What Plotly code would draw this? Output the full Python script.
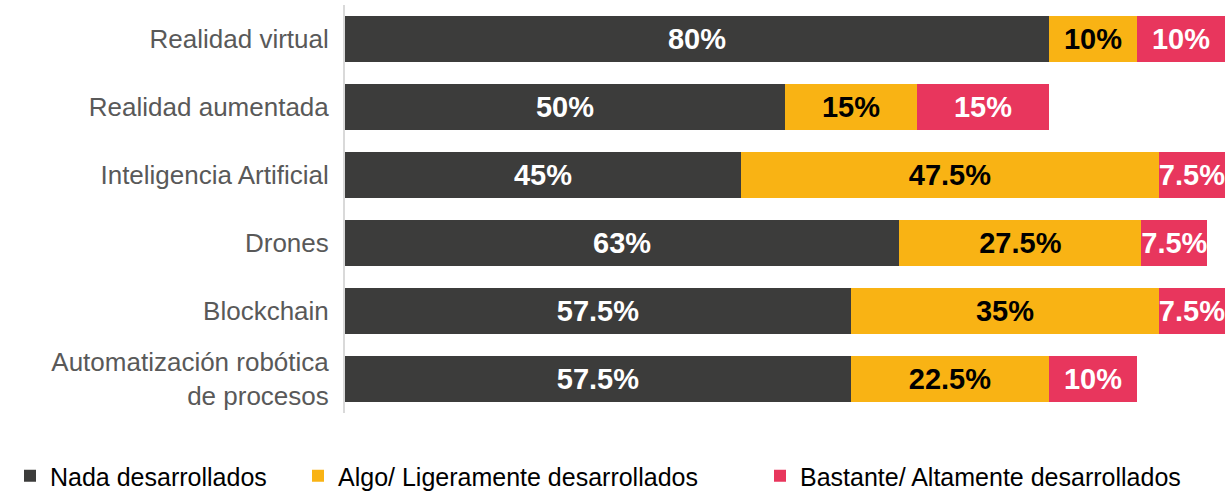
import plotly.graph_objects as go

categories = ["Realidad virtual", "Realidad aumentada", "Inteligencia Artificial",
              "Drones", "Blockchain", "Automatización robótica<br>de procesos"]
nada = [80, 50, 45, 63, 57.5, 57.5]
algo = [10, 15, 47.5, 27.5, 35, 22.5]
bastante = [10, 15, 7.5, 7.5, 7.5, 10]
series_names = ["Nada desarrollados", "Algo/ Ligeramente desarrollados", "Bastante/ Altamente desarrollados"]
colors = ["#3C3C3B", "#F9B314", "#E8365D"]
text_colors = ["white", "black", "white"]
legend_ids = ["legend", "legend2", "legend3"]
legend_x_px = [10, 298, 760]

def fmt(v):
    return f"{v:g}%"

W, H = 1225, 492
fig = go.Figure()
for name, vals, col, tcol, lid in zip(series_names, [nada, algo, bastante], colors, text_colors, legend_ids):
    fig.add_trace(go.Bar(
        y=categories, x=vals, name=name, orientation="h", legend=lid,
        marker=dict(color=col, line=dict(width=0)),
        text=[fmt(v) for v in vals], textposition="inside", insidetextanchor="middle",
        constraintext="none", cliponaxis=False,
        textfont=dict(family="Liberation Sans, Arial, sans-serif", size=29, color=tcol, weight="bold"),
        hoverinfo="skip",
    ))

plot_top, plot_bottom = 5, 413
legend_center = 476
legend_common = dict(orientation="h", xref="container", yref="container",
                     y=(H - legend_center) / H, xanchor="left", yanchor="middle",
                     font=dict(size=25, color="black"), itemwidth=30,
                     bgcolor="rgba(0,0,0,0)")
legends = {lid: dict(legend_common, x=px / W) for lid, px in zip(legend_ids, legend_x_px)}

fig.update_layout(
    barmode="stack", bargap=0.32,
    width=W, height=H,
    margin=dict(l=345, r=0, t=plot_top, b=H - plot_bottom, autoexpand=False),
    plot_bgcolor="white", paper_bgcolor="white",
    font=dict(family="Liberation Sans, Arial, sans-serif"),
    xaxis=dict(range=[0, 100], visible=False, fixedrange=True),
    yaxis=dict(categoryorder="array", categoryarray=categories, autorange="reversed",
               showline=True, linecolor="#D9D9D9", linewidth=2, ticks="",
               showgrid=False, ticklabelstandoff=9, fixedrange=True,
               tickfont=dict(size=26, color="#595959")),
    showlegend=True,
    **legends,
)

fig.write_html("out.html", config={"displayModeBar": False},
               post_script="document.body.style.margin='0';")
